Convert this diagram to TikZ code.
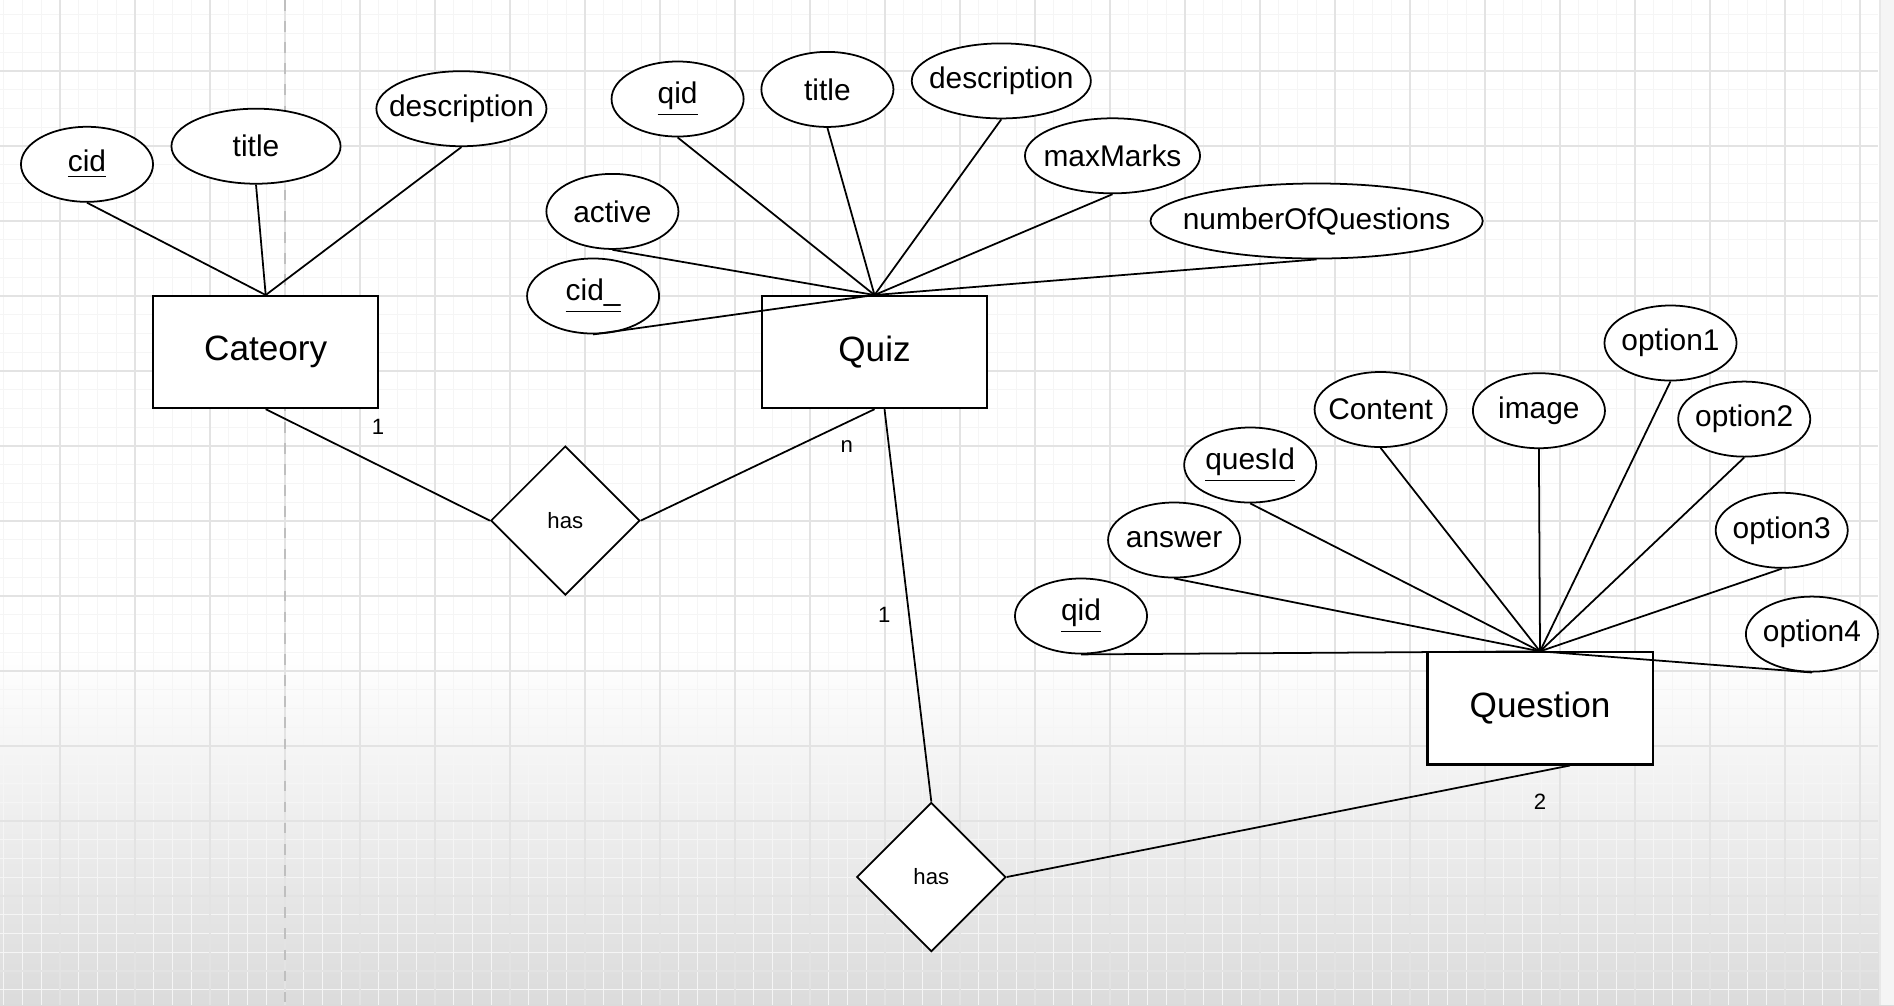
\documentclass[tikz,border=0pt]{standalone}
\usepackage{fontspec}
\setmainfont{Liberation Sans}
\usetikzlibrary{shapes.geometric}

\begin{document}
\begin{tikzpicture}[
    x=0.01cm, y=-0.01cm,
    entity/.style={draw, line width=0.6pt, fill=white, minimum width=2.25cm, minimum height=1.12cm, font=\fontsize{10}{12}\selectfont},
    attr/.style={draw, ellipse, line width=0.5pt, fill=white, minimum width=1.32cm, minimum height=0.75cm, inner xsep=-0.15cm, inner ysep=0pt, font=\fontsize{8.5}{10}\selectfont},
    rel/.style={draw, diamond, line width=0.5pt, fill=white, minimum width=1.49cm, minimum height=1.49cm, inner sep=0pt, font=\fontsize{6.3}{8}\selectfont},
    link/.style={line width=0.5pt},
    card/.style={inner sep=0pt, font=\fontsize{6.3}{8}\selectfont},
    minorgrid/.style={black!4, line width=0.3pt},
    majorgrid/.style={black!11, line width=0.4pt}
]
\useasboundingbox (0,0) rectangle (1894,1005);

% Background
\fill[white] (0,0) rectangle (1894,650);
\shade[top color=white, bottom color=black!14] (0,650) rectangle (1894,1005);
\foreach \x in {3.75,22.5,...,1878} \draw[minorgrid] (\x,0) -- (\x,1005);
\foreach \y in {14.75,33.5,...,1005} \draw[minorgrid] (0,\y) -- (1878,\y);
\foreach \x in {60,135,...,1860} \draw[majorgrid] (\x,0) -- (\x,1005);
\foreach \y in {71,146,...,1000} \draw[majorgrid] (0,\y) -- (1878,\y);
\draw[black!25, dashed, line width=0.4pt] (285,0) -- (285,1005);
\fill[black!4] (1880,0) rectangle (1894,1005);
\draw[black!9, line width=0.5pt] (1880,0) -- (1880,1005);

% Entities
\node[entity] (cat) at (265.7,352.1) {Cateory};
\node[entity] (quiz) at (874.5,352.1) {Quiz};
\node[entity] (ques) at (1540,708.4) {Question};

% Relations
\node[rel] (hascq) at (565.3,520.6) {has};
\node[rel] (hasqq) at (931.3,877) {has};

% Attributes - Cateory
\node[attr] (catcid) at (87,164.3) {\underline{cid}};
\node[attr, minimum width=1.69cm] (cattitle) at (256,146.2) {title};
\node[attr, minimum width=1.70cm] (catdesc) at (461.4,108.7) {description};

% Attributes - Quiz
\node[attr] (quizqid) at (677.6,99) {\underline{qid}};
\node[attr] (quiztitle) at (827.4,89.4) {title};
\node[attr, minimum width=1.79cm] (quizdesc) at (1001.3,80.9) {description};
\node[attr, minimum width=1.75cm] (quizmax) at (1112.5,155.8) {maxMarks};
\node[attr, minimum width=3.32cm, inner xsep=-0.2cm] (quiznum) at (1316.6,221) {numberOfQuestions};
\node[attr] (quizactive) at (612.4,211.4) {active};
\node[attr] (quizcid) at (593.1,296) {\underline{cid\_}};

% Attributes - Question
\node[attr] (quesqid) at (1081,616) {\underline{qid}};
\node[attr] (quesans) at (1174.1,540) {answer};
\node[attr] (quesid) at (1250.2,465) {\underline{quesId}};
\node[attr] (quescont) at (1380.6,409.5) {Content};
\node[attr] (quesimg) at (1538.9,410.7) {image};
\node[attr] (quesopta) at (1670.5,343) {option1};
\node[attr] (quesoptb) at (1744.2,419.1) {option2};
\node[attr] (quesoptc) at (1781.7,530.3) {option3};
\node[attr] (quesoptd) at (1811.9,634.1) {option4};

% Cardinalities
\node[card] (cardcat) at (378,426.4) {1};
\node[card] (cardquiz) at (846.7,447) {n};
\node[card] (cardquizb) at (884.2,614.8) {1};
\node[card] (cardques) at (1540,802) {2};

% Lines - attributes
\foreach \a in {catcid,cattitle,catdesc}
    \draw[link] (\a.south) -- (cat.north);
\foreach \a in {quizqid,quiztitle,quizdesc,quizmax,quiznum,quizactive,quizcid}
    \draw[link] (\a.south) -- (quiz.north);
\foreach \a in {quesqid,quesans,quesid,quescont,quesimg,quesopta,quesoptb,quesoptc,quesoptd}
    \draw[link] (\a.south) -- (ques.north);

% Lines - relations
\draw[link] (cat.south) -- (hascq.west);
\draw[link] (hascq.east) -- (quiz.south);
\draw[link] ([xshift=0.1cm]quiz.south) -- (hasqq.north);
\draw[link] (hasqq.east) -- ([xshift=0.3cm]ques.south);

\end{tikzpicture}
\end{document}
